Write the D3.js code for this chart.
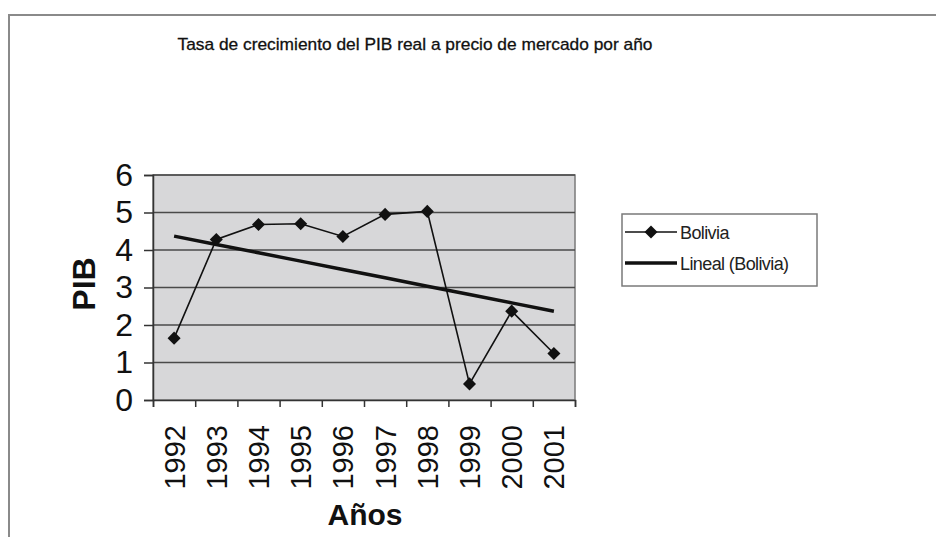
<!DOCTYPE html>
<html>
<head>
<meta charset="utf-8">
<script src="https://cdn.jsdelivr.net/npm/d3@7"></script>
<style>
  body { margin: 0; background: #fff; }
  svg { display: block; font-family: "Liberation Sans", Arial, sans-serif; }
</style>
</head>
<body>
<svg width="936" height="537"></svg>
<script>
// data
const years = ['1992', '1993', '1994', '1995', '1996', '1997', '1998', '1999', '2000', '2001']
const bolivia = [1.65, 4.28, 4.68, 4.70, 4.36, 4.95, 5.03, 0.43, 2.37, 1.24]
const yTicks = [0, 1, 2, 3, 4, 5, 6]
const title = 'Tasa de crecimiento del PIB real a precio de mercado por año'
const seriesNames = ['Bolivia', 'Lineal (Bolivia)']

const svg = d3.select('svg')
const plot = {left: 153, right: 575, top: 175, bottom: 400}

// outer chart frame
svg.append('rect')
    .attr('x', 9).attr('y', 15)
    .attr('width', 940).attr('height', 540)
    .attr('fill', 'none')
    .attr('stroke', '#8a8a8a')
    .attr('stroke-width', 2)

const xScale = d3.scaleBand()
    .domain(years)
    .range([plot.left, plot.right])
    .padding(0)
const xEdge = d3.scaleLinear()
    .domain([0, years.length])
    .range([plot.left, plot.right])
const yScale = d3.scaleLinear()
    .domain([0, 6])
    .range([plot.bottom, plot.top])

// plot area
svg.append('rect')
    .attr('x', plot.left).attr('y', plot.top)
    .attr('width', plot.right - plot.left)
    .attr('height', plot.bottom - plot.top)
    .attr('fill', '#d7d7d9')
    .attr('stroke', '#7a7a7a')
    .attr('stroke-width', 1.5)

svg.selectAll('.grid')
    .data(yTicks.filter(d => d > 0))
    .enter()
    .append('line')
    .attr('class', 'grid')
    .attr('x1', plot.left).attr('x2', plot.right)
    .attr('y1', d => yScale(d)).attr('y2', d => yScale(d))
    .attr('stroke', '#4a4a4a')
    .attr('stroke-width', 1.5)

// y axis
const yAxis = svg.append('g')
    .attr('transform', 'translate(' + plot.left + ',0)')
    .call(d3.axisLeft(yScale).tickValues(yTicks).tickFormat(d3.format('d')).tickSize(9).tickPadding(11))
yAxis.select('.domain').attr('stroke', '#333').attr('stroke-width', 1.5)
yAxis.selectAll('.tick line').attr('stroke', '#333').attr('stroke-width', 1.5)
yAxis.selectAll('text')
    .attr('font-size', 32)
    .attr('font-family', '"Liberation Sans", Arial, sans-serif')
    .attr('fill', '#111')

// x axis: ticks on category edges
const xTickAxis = svg.append('g')
    .attr('transform', 'translate(0,' + plot.bottom + ')')
    .call(d3.axisBottom(xEdge).ticks(years.length).tickSize(7).tickFormat(''))
xTickAxis.select('.domain').attr('stroke', '#333').attr('stroke-width', 1.5)
xTickAxis.selectAll('.tick line').attr('stroke', '#333').attr('stroke-width', 1.5)

const xAxis = svg.append('g')
    .attr('transform', 'translate(0,' + plot.bottom + ')')
    .call(d3.axisBottom(xScale).tickSize(0))
xAxis.select('.domain').remove()
xAxis.selectAll('text')
    .attr('transform', 'rotate(-90)')
    .attr('text-anchor', 'end')
    .attr('x', -25)
    .attr('y', 0)
    .attr('dy', '0.36em')
    .attr('font-size', 29)
    .attr('font-family', '"Liberation Sans", Arial, sans-serif')
    .attr('fill', '#111')

// linear trend (least squares on the series)
const xs = years.map((d, i) => i + 1)
const mx = d3.mean(xs)
const my = d3.mean(bolivia)
const slope = d3.sum(xs, (x, i) => (x - mx) * (bolivia[i] - my)) / d3.sum(xs, x => (x - mx) * (x - mx))
const trend = xs.map(x => my + slope * (x - mx))

const center = d => xScale(d) + xScale.bandwidth() / 2
const line = d3.line()
    .x((d, i) => center(years[i]))
    .y(d => yScale(d))

svg.append('path')
    .datum(trend)
    .attr('d', line)
    .attr('fill', 'none')
    .attr('stroke', '#111')
    .attr('stroke-width', 3.5)

svg.append('path')
    .datum(bolivia)
    .attr('d', line)
    .attr('fill', 'none')
    .attr('stroke', '#111')
    .attr('stroke-width', 1.6)

const diamond = d3.symbol().type(d3.symbolSquare).size(85)
svg.selectAll('.marker')
    .data(bolivia)
    .enter()
    .append('path')
    .attr('class', 'marker')
    .attr('d', diamond)
    .attr('transform', (d, i) => 'translate(' + center(years[i]) + ',' + yScale(d) + ') rotate(45)')
    .attr('fill', '#111')

// titles
svg.append('text')
    .attr('x', 415).attr('y', 50)
    .attr('text-anchor', 'middle')
    .attr('font-size', 17)
    .attr('textLength', 475)
    .attr('lengthAdjust', 'spacingAndGlyphs')
    .attr('fill', '#111')
    .attr('stroke', '#111')
    .attr('stroke-width', 0.3)
    .text(title)

svg.append('text')
    .attr('transform', 'translate(95,284) rotate(-90)')
    .attr('text-anchor', 'middle')
    .attr('font-size', 32)
    .attr('font-weight', 'bold')
    .attr('fill', '#111')
    .text('PIB')

svg.append('text')
    .attr('x', 365).attr('y', 525)
    .attr('text-anchor', 'middle')
    .attr('font-size', 30)
    .attr('font-weight', 'bold')
    .attr('fill', '#111')
    .text('Años')

// legend
const legend = svg.append('g')
legend.append('rect')
    .attr('x', 622).attr('y', 214)
    .attr('width', 195).attr('height', 72)
    .attr('fill', '#fff')
    .attr('stroke', '#7a7a7a')
    .attr('stroke-width', 1.5)

const rows = legend.selectAll('.row')
    .data(seriesNames)
    .enter()
    .append('g')
    .attr('class', 'row')
    .attr('transform', (d, i) => 'translate(0,' + (232 + i * 31) + ')')
rows.append('line')
    .attr('x1', 625).attr('x2', 677)
    .attr('stroke', '#111')
    .attr('stroke-width', (d, i) => i === 0 ? 1.6 : 3.5)
rows.filter((d, i) => i === 0)
    .append('path')
    .attr('d', diamond)
    .attr('transform', 'translate(651,0) rotate(45)')
    .attr('fill', '#111')
rows.append('text')
    .attr('x', 680)
    .attr('y', 7)
    .attr('font-size', 18)
    .attr('letter-spacing', -0.6)
    .attr('fill', '#222')
    .text(d => d)
</script>
</body>
</html>
